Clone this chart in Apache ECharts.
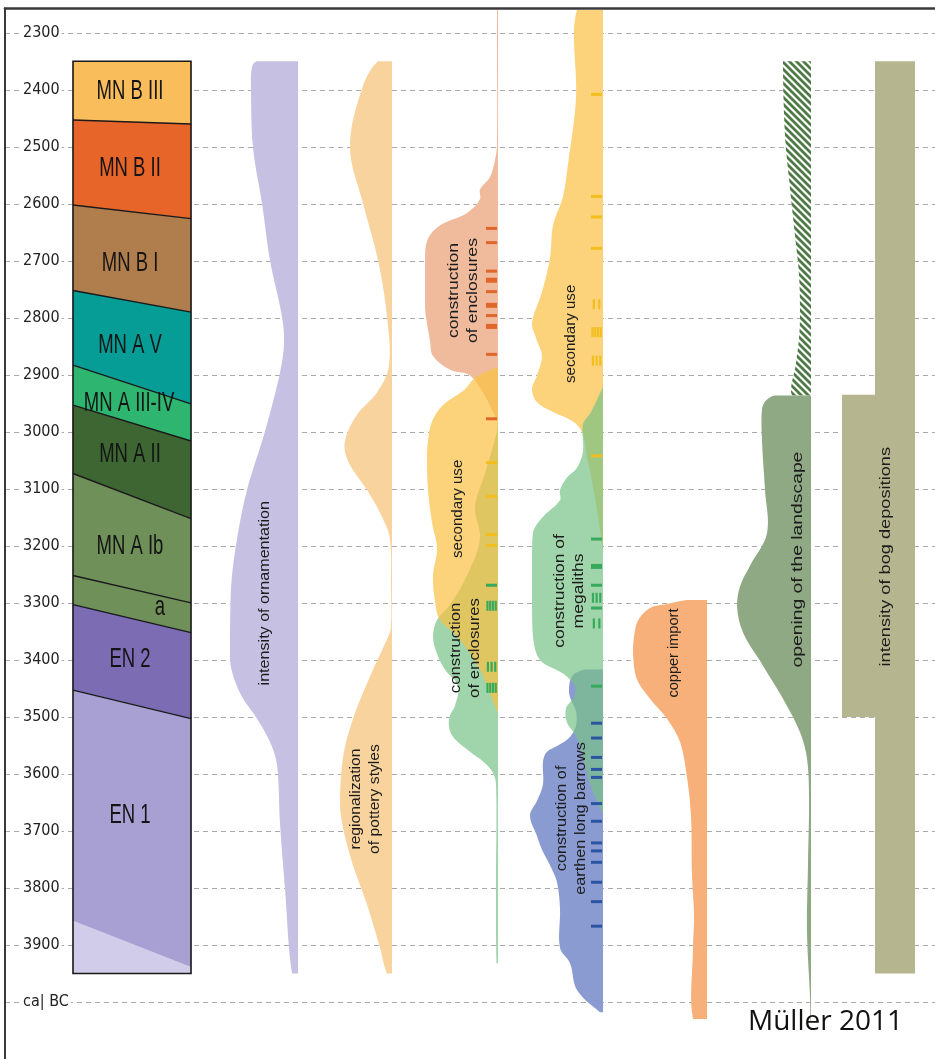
<!DOCTYPE html>
<html>
<head>
<meta charset="utf-8">
<script src="https://cdn.jsdelivr.net/npm/echarts@6.0.0/dist/echarts.min.js"></script>
<style>html,body{margin:0;padding:0;background:#fff}#c{width:935px;height:1059px}</style>
</head>
<body>
<div id="c"></div>
<script>
// ---------------- DATA (years cal BC, widths in intensity units) ----------------
const axisYears = [2300,2400,2500,2600,2700,2800,2900,3000,3100,3200,3300,3400,3500,3600,3700,3800,3900];
const axisEndLabel = 'ca| BC';

const periodNames = ['MN B III','MN B II','MN B I','MN A V','MN A III-IV','MN A II','MN A Ib','a','EN 2','EN 1',''];
// boundaries: [year at left edge, year at right edge]
const periodBounds = [[2350,2350],[2453,2460],[2602,2626],[2752,2790],[2883,2951],[2953,3016],[3073,3152],[3252,3300],[3303,3352],[3453,3503],[3858,3939],[3950,3950]];

const ornamentation = [[2350,41],[2360,46],[2398,47],[2501,45],[2599,36],[2699,28],[2798,16],[2845,14],[2896,18],[2999,33],[3102,51],[3188,61],[3274,67],[3400,68],[3458,58],[3503,41],[3544,28],[3584,21],[3687,18],[3802,13],[3950,6]];
const pottery = [[2350,14],[2398,30],[2501,42],[2599,29],[2699,14],[2798,5],[2884,3],[2931,15],[2970,35],[3016,47],[3051,44],[3102,25],[3142,12],[3188,2],[3274,1],[3343,1],[3360,4],[3429,22],[3503,39],[3571,49],[3657,52],[3743,42],[3829,25],[3905,12],[3950,5]];

const enclosuresMN = [[2260,1],[2496,1],[2523,3],[2553,8],[2575,18],[2592,18],[2616,31],[2638,58],[2661,70],[2695,73],[2781,73],[2810,71],[2840,68],[2867,65],[2891,48],[2901,28],[2931,15],[2965,5],[2982,0.3]];
const secondaryUseA = [[2888,3],[2905,23],[2925,33],[2953,55],[2982,66],[3016,70],[3046,71],[3102,70],[3159,66],[3205,61],[3252,65],[3297,63],[3330,58],[3360,40],[3417,18],[3446,11],[3492,0.3]];
const enclosuresEN = [[2982,0.3],[2999,1],[3073,13],[3132,23],[3188,18],[3252,31],[3303,48],[3330,61],[3360,65],[3389,61],[3417,53],[3446,40],[3480,43],[3503,49],[3532,46],[3561,28],[3578,15],[3595,6],[3618,2],[3790,2],[3932,1.5]];

const secondaryUseB = [[2260,26],[2415,27],[2530,35],[2587,40],[2638,50],[2695,53],[2754,61],[2810,71],[2840,66],[2867,61],[2901,66],[2925,71],[2948,66],[2965,50],[2982,30],[3004,20],[3046,16],[3068,13],[3137,6],[3205,0.3]];
const megaliths = [[2922,0.3],[2965,12],[2987,20],[3034,20],[3063,26],[3080,36],[3102,43],[3120,43],[3149,60],[3176,70],[3218,71],[3303,71],[3360,70],[3400,63],[3424,40],[3446,28],[3465,29],[3485,37],[3510,36],[3530,28],[3550,23],[3584,18],[3618,13],[3670,0.3]];
const longBarrows = [[3417,18],[3429,31],[3455,34],[3470,32],[3490,27],[3515,27],[3535,33],[3550,45],[3561,56],[3578,60],[3618,60],[3647,66],[3673,73],[3709,66],[3733,61],[3760,53],[3790,46],[3836,43],[3905,43],[3932,33],[3979,26],[4018,3]];

const copperImport = [[3295,20],[3302,40],[3309,57],[3331,69],[3360,73],[3389,74],[3434,70],[3468,57],[3503,40],[3544,27],[3606,20],[3675,16],[3778,15],[3846,13],[3905,14],[4030,14]];
const openingHatched = [[2350,28],[2480,26],[2573,21],[2656,16],[2724,12],[2793,11],[2836,12],[2879,15],[2936,19]];
const openingSolid = [[2936,36],[2945,45],[2960,49],[3016,49],[3102,46],[3178,44],[3235,61],[3271,71],[3305,74],[3352,68],[3410,48],[3468,28],[3527,11],[3573,4],[3642,2],[3759,3],[3876,4],[3991,1],[4035,0.5]];
const bogDepositions = [[2350,40],[2935,40],[2935,73],[3500,73],[3500,40],[3950,40]];

// dated events: [year, kind] kind 0 = dash, 1 = thick dash, n>=2 = n short bars
const datesEnclosuresMN = [[2643,0],[2668,0],[2718,0],[2734,1],[2754,0],[2778,1],[2796,0],[2815,1],[2864,0],[2977,0]];
const datesSecondaryA = [[3054,0],[3113,0],[3180,0],[3199,0]];
const datesEnclosuresEN = [[3269,0],[3305,4],[3412,3],[3449,4]];
const datesSecondaryB = [[2408,0],[2587,0],[2623,0],[2678,0],[2776,2],[2825,4],[2875,3],[3042,0]];
const datesMegaliths = [[3188,0],[3236,1],[3269,0],[3291,3],[3309,0],[3336,2],[3446,0]];
const datesBarrows = [[3511,0],[3537,0],[3571,0],[3592,0],[3606,0],[3652,0],[3683,0],[3721,0],[3735,0],[3755,0],[3790,0],[3824,0],[3867,0]];

// ---------------- LAYOUT / STYLE ----------------
const BLOCK = {x0:73, x1:191};
const periodColors = ['#F9BD5C','#E8652A','#B07D4D','#079D97','#2EB56F','#3D6633','#70905A','#70905A','#7C6CB4','#A8A0D2','#D0CCE9'];
const periodLabelPos = [[130,2403],[130,2539],[130,2704],[130,2848],[129,2951],[130,3039],[130,3202],[160,3309],[130,3400],[130,3673]];
const FONT = "'Liberation Sans', Arial, sans-serif";

const annotations = [
  {t:'intensity of ornamentation', x:265, y:3283, f:14, s:1.15},
  {t:'regionalization\nof pottery styles', x:366, y:3644, f:14, s:1.12},
  {t:'construction\nof enclosures', x:464, y:2752, f:14, s:1.26},
  {t:'secondary use', x:458, y:3135, f:14, s:1.08},
  {t:'construction\nof enclosures', x:466, y:3379, f:14, s:1.2},
  {t:'secondary use', x:571, y:2828, f:14, s:1.08},
  {t:'construction of\nmegaliths', x:570, y:3279, f:14, s:1.25},
  {t:'construction of\nearthen long barrows', x:572, y:3678, f:14, s:1.16},
  {t:'copper import', x:674, y:3388, f:14, s:1.04},
  {t:'opening of the landscape', x:798, y:3224, f:14, s:1.38},
  {t:'intensity of bog depositions', x:886, y:3219, f:14, s:1.3}
];

function hatch() {
  const c = document.createElement('canvas');
  c.width = 7; c.height = 7;
  const g = c.getContext('2d');
  g.fillStyle = '#ffffff'; g.fillRect(0,0,7,7);
  g.strokeStyle = '#4E7B45'; g.lineWidth = 2.8;
  g.beginPath();
  g.moveTo(-1,-1); g.lineTo(8,8);
  g.moveTo(-4.5,2.5); g.lineTo(4.5,11.5);
  g.moveTo(2.5,-4.5); g.lineTo(11.5,4.5);
  g.stroke();
  return c;
}

function profileSeries(name, profile, base, fill, z, smooth) {
  return {
    type:'custom', name, coordinateSystem:'cartesian2d', clip:false, silent:true, z,
    data: profile.map(p => [base - p[1], -p[0]]),
    renderItem(params, api) {
      if (params.dataIndex !== 0) return null;
      const pts = [];
      profile.forEach(p => pts.push(api.coord([base - p[1], -p[0]])));
      for (let i = profile.length - 1; i >= 0; i--) pts.push(api.coord([base, -profile[i][0]]));
      const b = api.coord([base, -profile[0][0]]);
      return {type:'polygon', shape:{points:pts, smooth: smooth, smoothConstraint:[b,b]}, style:{fill: fill}};
    }
  };
}

function datesSeries(name, list, base, color) {
  return {
    type:'custom', name, coordinateSystem:'cartesian2d', clip:false, silent:true, z:30,
    data: list.map(d => [base, -d[0]]),
    renderItem(params, api) {
      const d = list[params.dataIndex];
      const p = api.coord([base, -d[0]]);
      const x0 = p[0] - 12;
      if (d[1] === 0) return {type:'rect', shape:{x:x0, y:p[1]-1.5, width:11, height:3}, style:{fill:color}};
      if (d[1] === 1) return {type:'rect', shape:{x:x0, y:p[1]-2.5, width:11, height:5}, style:{fill:color}};
      const n = d[1], step = 11 / n, kids = [];
      for (let k = 0; k < n; k++) kids.push({type:'rect', shape:{x:x0 + k*step + step/2 - 1, y:p[1]-5, width:2.2, height:10}, style:{fill:color}});
      return {type:'group', children:kids};
    }
  };
}

const SALMON = 'rgba(234,158,116,0.7)', YELLOW = 'rgba(251,192,65,0.7)', GREEN = 'rgba(119,194,134,0.7)', BLUE = 'rgba(89,112,191,0.7)';
const S = 0.35;

const series = [];
series.push({
  type:'custom', name:'periods', coordinateSystem:'cartesian2d', clip:false, silent:true, z:3,
  data: periodNames.map((n,i) => [BLOCK.x0, -periodBounds[i][0]]),
  renderItem(params, api) {
    const i = params.dataIndex;
    const t = periodBounds[i], b = periodBounds[i+1];
    const p1 = api.coord([BLOCK.x0, -t[0]]), p2 = api.coord([BLOCK.x1, -t[1]]);
    const p3 = api.coord([BLOCK.x1, -b[1]]), p4 = api.coord([BLOCK.x0, -b[0]]);
    const kids = [{type:'polygon', shape:{points:[p1,p2,p3,p4]}, style:{fill:periodColors[i], stroke:periodColors[i], lineWidth:0.5}}];
    if (i < 9) kids.push({type:'line', z2:5, shape:{x1:p4[0],y1:p4[1],x2:p3[0],y2:p3[1]}, style:{stroke:'#1a1a1a', lineWidth:1.4}});
    if (i === 0) {
      const a = api.coord([BLOCK.x0, -periodBounds[0][0]]);
      const z = api.coord([BLOCK.x1, -periodBounds[periodBounds.length-1][0]]);
      kids.push({type:'rect', z2:6, shape:{x:a[0], y:a[1], width:z[0]-a[0], height:z[1]-a[1]}, style:{fill:'none', stroke:'#1a1a1a', lineWidth:1.6}});
    }
    if (periodNames[i]) {
      const lp = api.coord([periodLabelPos[i][0], -periodLabelPos[i][1]]);
      kids.push({type:'text', z2:10, x:lp[0], y:lp[1], scaleX:1, scaleY:1.45,
        style:{text:periodNames[i], fontSize:18.5, fontFamily:FONT, fill:'#141414', align:'center', verticalAlign:'middle'}});
    }
    return {type:'group', children:kids};
  }
});
series.push(profileSeries('intensity of ornamentation', ornamentation, 298, '#C6C1E3', 3, S));
series.push(profileSeries('regionalization of pottery styles', pottery, 392, '#F9D39E', 3, S));
[enclosuresMN, secondaryUseA, enclosuresEN].forEach((p,i) => series.push(profileSeries('u4'+i, p, 498, '#ffffff', 4, S)));
series.push(profileSeries('construction of enclosures (MN)', enclosuresMN, 498, SALMON, 5, S));
series.push(profileSeries('construction of enclosures (EN)', enclosuresEN, 498, GREEN, 6, S));
series.push(profileSeries('secondary use (enclosures)', secondaryUseA, 498, YELLOW, 7, S));
[secondaryUseB, megaliths, longBarrows].forEach((p,i) => series.push(profileSeries('u5'+i, p, 603, '#ffffff', 4, S)));
series.push(profileSeries('secondary use (megaliths)', secondaryUseB, 603, YELLOW, 5, S));
series.push(profileSeries('construction of earthen long barrows', longBarrows, 603, BLUE, 6, S));
series.push(profileSeries('construction of megaliths', megaliths, 603, GREEN, 7, S));
series.push(profileSeries('copper import', copperImport, 707, '#F7B07A', 3, S));
series.push(profileSeries('opening of the landscape (uncertain)', openingHatched, 811, {image: hatch(), repeat:'repeat'}, 3, S));
series.push(profileSeries('opening of the landscape', openingSolid, 811, '#8FA985', 3, S));
series.push(profileSeries('intensity of bog depositions', bogDepositions, 915, '#B5B58F', 3, 0));
series.push(datesSeries('dates enclosures MN', datesEnclosuresMN, 498, '#E0662C'));
series.push(datesSeries('dates secondary use A', datesSecondaryA, 498, '#F2BE1E'));
series.push(datesSeries('dates enclosures EN', datesEnclosuresEN, 498, '#38AA5C'));
series.push(datesSeries('dates secondary use B', datesSecondaryB, 603, '#F2BE1E'));
series.push(datesSeries('dates megaliths', datesMegaliths, 603, '#38AA5C'));
series.push(datesSeries('dates long barrows', datesBarrows, 603, '#2B55A2'));
series.push({
  type:'custom', name:'labels', coordinateSystem:'cartesian2d', clip:false, silent:true, z:40,
  data: annotations.map(a => [a.x, -a.y]),
  renderItem(params, api) {
    const a = annotations[params.dataIndex];
    const p = api.coord([a.x, -a.y]);
    return {type:'text', x:p[0], y:p[1], rotation:Math.PI/2, scaleX:a.s, scaleY:1,
      style:{text:a.t, fontSize:a.f, lineHeight:19, fontFamily:FONT, fill:'#1c1c1c', align:'center', verticalAlign:'middle'}};
  }
});

const chart = echarts.init(document.getElementById('c'));
chart.setOption({
  animation:false,
  backgroundColor:'#ffffff',
  grid:{left:5, right:0, top:8.3, bottom:-22.8, containLabel:false},
  xAxis:{type:'value', min:5, max:935, position:'top',
    axisLine:{show:true, onZero:false, lineStyle:{color:'#3a3a3a', width:2.5}},
    axisTick:{show:false}, axisLabel:{show:false}, splitLine:{show:false}},
  yAxis:{type:'value', min:-4100, max:-2257, interval:100,
    axisLine:{show:true, onZero:false, lineStyle:{color:'#3a3a3a', width:2}},
    axisTick:{show:false},
    splitLine:{show:true, lineStyle:{color:'#aaaaaa', width:1, type:[5,4]}},
    axisLabel:{inside:true, margin:17, color:'#222', fontSize:16,
      fontFamily:"'Liberation Sans Narrow', 'DejaVu Sans Condensed', 'Liberation Sans', sans-serif",
      backgroundColor:'#ffffff', padding:[0,2,0,1],
      formatter: v => (v === -4000 ? axisEndLabel : (axisYears.indexOf(-v) >= 0 ? String(-v) : ''))}
  },
  graphic:[{type:'text', left:748, top:1008, z:50,
    style:{text:'Müller 2011', fontSize:28, fontFamily:"'Open Sans', sans-serif", fill:'#111'}}],
  series
});
</script>
</body>
</html>
